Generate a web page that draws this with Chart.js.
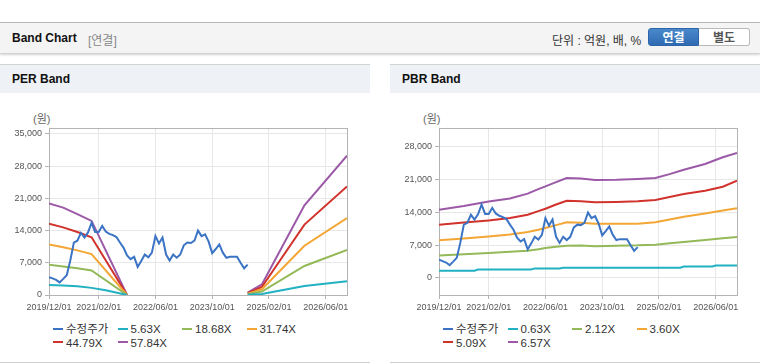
<!DOCTYPE html>
<html lang="ko">
<head>
<meta charset="utf-8">
<title>Band Chart</title>
<script src="https://cdn.jsdelivr.net/npm/chart.js@4.4.1/dist/chart.umd.min.js"></script>
<style>
    body { margin: 0; width: 760px; height: 364px; background: #fff; position: relative; overflow: hidden;
           font-family: 'Liberation Sans', 'Noto Sans CJK KR', sans-serif; color: #222; }
    .top { position: absolute; left: 0; top: 22px; width: 760px; height: 30px; background: #f4f4f4;
           border-top: 1px solid #b8b8b8; border-bottom: 1px solid #d2d2d2; box-shadow: 0 1px 2px rgba(0,0,0,0.18); }
    .top .title { position: absolute; left: 12px; top: 8px; font-size: 12px; font-weight: bold; color: #111; }
    .top .sub { position: absolute; left: 88px; top: 8px; font-size: 12px; color: #888; }
    .top .unit { position: absolute; left: 552px; top: 8px; font-size: 12px; color: #333; }
    .btn { position: absolute; top: 5px; height: 18px; line-height: 18px; width: 51px; text-align: center;
           font-size: 12px; font-weight: bold; box-sizing: border-box; }
    .btn.on { left: 648px; background: linear-gradient(#4a88cc, #2f6bb2); color: #fff; border: 1px solid #2d65a8; border-radius: 3px 0 0 3px; }
    .btn.off { left: 699px; background: #fff; color: #555; border: 1px solid #b9b9b9; border-left: none; border-radius: 0 3px 3px 0; }
    .panel { position: absolute; top: 64px; width: 370px; height: 298px; border-bottom: 1px solid #d0d0d0; }
    .panel .head { height: 28px; background: #eef1f6; border-top: 1px solid #d3d3d3; }
    .panel .head span { position: absolute; left: 12px; top: 8px; font-size: 12px; font-weight: bold; color: #111; }
    .panel canvas { position: absolute; left: 0; top: 29px; }
    .panel .won { position: absolute; left: 33px; top: 46px; font-size: 11px; color: #666; }
    .legend { position: absolute; left: 53px; top: 259px; width: 300px; font-size: 11.5px; color: #333; }
    .legend div { display: inline-block; width: 64.5px; height: 13.5px; line-height: 13.5px; white-space: nowrap; vertical-align: top; }
    .legend i { display: inline-block; width: 10px; height: 2px; vertical-align: middle; margin-right: 3px; position: relative; top: -1px; }
</style>
</head>
<body>
<div class="top">
    <span class="title">Band Chart</span>
    <span class="sub">[연결]</span>
    <span class="unit">단위 : 억원, 배, %</span>
    <div class="btn on">연결</div>
    <div class="btn off">별도</div>
</div>

<div class="panel" style="left:0">
    <div class="head"><span>PER Band</span></div>
    <span class="won">(원)</span>
    <canvas id="perChart" width="370" height="225"></canvas>
    <div class="legend" id="perLegend"></div>
</div>

<div class="panel" style="left:390px">
    <div class="head"><span>PBR Band</span></div>
    <span class="won">(원)</span>
    <canvas id="pbrChart" width="370" height="225"></canvas>
    <div class="legend" id="pbrLegend"></div>
</div>

<script>
// months counted from 2019/12 (0) to 2026/12 (84)
const xTickPos = [0, 14, 30, 46, 62, 78];
const xTickLabels = ['2019/12/01', '2021/02/01', '2022/06/01', '2023/10/01', '2025/02/01', '2026/06/01'];

// 수정주가, monthly from 2019/12
const price = [3900, 3600, 3300, 2750, 3500, 4300, 7500, 11400, 11800, 13500,
               12500, 13600, 15700, 13700, 13700, 15000, 13800, 13300, 13000, 12600,
               11400, 10300, 8600, 7800, 8300, 6100, 7400, 8800, 8200, 9200,
               12800, 11200, 12500, 8800, 7500, 8800, 8100, 8800, 10800, 11400,
               11300, 11800, 14000, 12800, 13200, 11600, 9100, 10000, 11000, 9200,
               8100, 8300, 8300, 8300, 7000, 5800, 6600];

// PER band lines: [month, value], null = no band
const perLabels = ['5.63X', '18.68X', '31.74X', '44.79X', '57.84X'];
const per1 = [[0, 2150], [4, 2050], [8, 1900], [12, 1550], [16, 1050], [22, 0], [40, null], [56, 60], [60, 230], [72, 1950], [84, 3000]];
const per2 = [[0, 6550], [4, 6200], [8, 5800], [12, 5350], [22, 0], [40, null], [56, 180], [60, 740], [72, 6300], [84, 9800]];
const per3 = [[0, 11000], [4, 10400], [8, 9700], [12, 8900], [22, 0], [40, null], [56, 300], [60, 1250], [72, 10700], [84, 16700]];
const per4 = [[0, 15500], [4, 14700], [8, 13700], [12, 12550], [22, 0], [40, null], [56, 400], [60, 1750], [72, 15300], [84, 23600]];
const per5 = [[0, 19900], [4, 19000], [8, 17600], [12, 16100], [22, 0], [40, null], [56, 500], [60, 2300], [72, 19500], [84, 30300]];

// PBR band lines
const pbrLabels = ['0.63X', '2.12X', '3.60X', '5.09X', '6.57X'];
const pbr1 = [[0, 1560], [10, 1560], [11, 1800], [26, 1800], [27, 2050], [34, 2050], [35, 2200], [68, 2200], [69, 2450], [77, 2450], [78, 2650], [84, 2650]];
const pbr2 = [[0, 4830], [7, 5080], [14, 5340], [20, 5600], [25, 5840], [28, 6150], [30, 6410], [33, 6650], [36, 6900], [40, 6950], [44, 6800],
              [50, 6900], [56, 6970], [61, 7120], [65, 7400], [69, 7690], [75, 8100], [80, 8500], [84, 8760]];
const pbr3 = [[0, 8040], [7, 8460], [14, 8890], [20, 9300], [25, 9820], [28, 10300], [30, 10680], [33, 11300], [36, 11890], [40, 11800], [44, 11600],
              [50, 11600], [56, 11600], [61, 11890], [65, 12500], [69, 13100], [75, 13800], [80, 14400], [84, 14900]];
const pbr4 = [[0, 11390], [7, 11850], [14, 12310], [20, 12800], [25, 13530], [28, 14300], [30, 14810], [33, 15700], [36, 16520], [40, 16400], [44, 16170],
              [50, 16250], [56, 16380], [61, 16670], [65, 17300], [69, 17950], [75, 18660], [80, 19500], [84, 20790]];
const pbr5 = [[0, 14600], [7, 15400], [14, 16370], [20, 17000], [25, 18020], [28, 19000], [30, 19580], [33, 20500], [36, 21370], [40, 21250], [44, 20950],
              [50, 21000], [56, 21160], [61, 21370], [65, 22200], [69, 23150], [75, 24370], [80, 25800], [84, 26700]];

const colors = ['#3b74c4', '#22b1c2', '#93b958', '#f4a635', '#d1322c', '#9b59a7'];
const perYTicks = [0, 7000, 14000, 21000, 28000, 35000];
const pbrYTicks = [0, 7000, 14000, 21000, 28000];

const plotBorder = {
    id: 'plotBorder',
    beforeDatasetsDraw(chart) {
        const a = chart.chartArea;
        const ctx = chart.ctx;
        ctx.save();
        ctx.strokeStyle = '#b4b4b4';
        ctx.lineWidth = 1;
        ctx.strokeRect(Math.round(a.left) + 0.5, Math.round(a.top) + 0.5, Math.round(a.right - a.left), Math.round(a.bottom - a.top));
        ctx.restore();
    }
};

function toPoints(pairs) {
    return pairs.map(p => ({x: p[0], y: p[1]}));
}

function createBandChart(canvasId, legendId, bandLabels, bands, yMin, yMax, yTicks) {
    const datasets = [{label: '수정주가', data: price.map((v, i) => ({x: i, y: v}))}];
    bands.forEach((b, i) => datasets.push({label: bandLabels[i], data: toPoints(b)}));
    datasets.forEach((d, i) => {
        d.borderColor = colors[i];
        d.backgroundColor = colors[i];
        d.borderWidth = 2;
        d.pointRadius = 0;
        d.tension = 0;
        d.spanGaps = false;
    });

    const tickFont = {family: "'Liberation Sans', sans-serif", size: 9};
    const chart = new Chart(document.getElementById(canvasId), {
        type: 'line',
        data: {datasets: datasets},
        options: {
            responsive: false,
            animation: false,
            devicePixelRatio: 1,
            layout: {padding: {top: 35, right: 23, left: 0, bottom: 0}},
            plugins: {legend: {display: false}, tooltip: {enabled: false}},
            scales: {
                x: {
                    type: 'linear', min: 0, max: 84,
                    afterBuildTicks: s => { s.ticks = xTickPos.map(v => ({value: v})); },
                    afterFit: s => { s.height = 23; },
                    ticks: {
                        autoSkip: false, maxRotation: 0, padding: 3, color: '#555', font: tickFont,
                        callback: v => xTickLabels[xTickPos.indexOf(v)]
                    },
                    grid: {color: '#e7e7e7', tickColor: '#b4b4b4', tickLength: 4},
                    border: {color: '#b4b4b4'}
                },
                y: {
                    min: yMin, max: yMax,
                    afterBuildTicks: s => { s.ticks = yTicks.map(v => ({value: v})); },
                    afterFit: s => { s.width = 49; },
                    ticks: {padding: 3, color: '#555', font: tickFont, callback: v => v.toLocaleString('en-US')},
                    grid: {color: '#e7e7e7', tickColor: '#b4b4b4', tickLength: 4},
                    border: {color: '#b4b4b4'}
                }
            }
        },
        plugins: [plotBorder]
    });

    const legend = document.getElementById(legendId);
    datasets.forEach((d, i) => {
        const item = document.createElement('div');
        item.innerHTML = `<i style="background:${colors[i]}"></i>${d.label}`;
        legend.appendChild(item);
    });
    return chart;
}

createBandChart('perChart', 'perLegend', perLabels, [per1, per2, per3, per4, per5], 0, 36300, perYTicks);
createBandChart('pbrChart', 'pbrLegend', pbrLabels, [pbr1, pbr2, pbr3, pbr4, pbr5], -3640, 32060, pbrYTicks);
</script>
</body>
</html>
